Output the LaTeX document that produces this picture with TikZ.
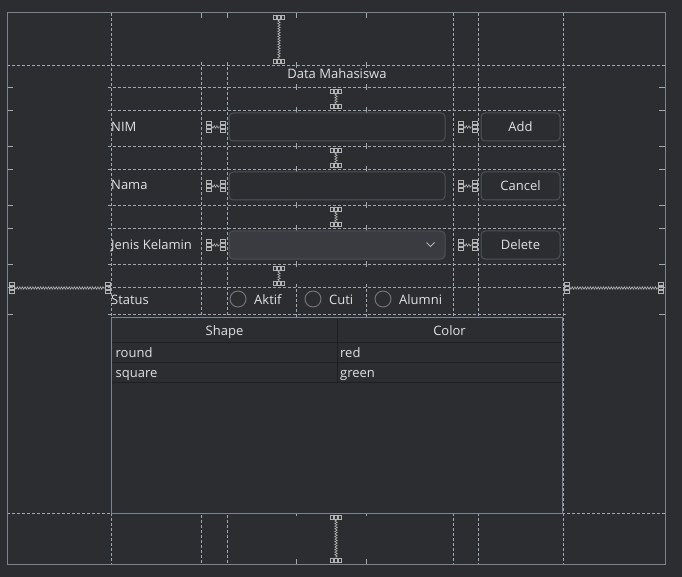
\documentclass[tikz,border=0pt]{standalone}
\usepackage{fontspec}
\setmainfont{Open Sans}
\usetikzlibrary{decorations.pathmorphing}
\definecolor{bg}{HTML}{2B2D30}
\definecolor{gridc}{HTML}{A0A8B6}
\definecolor{framec}{HTML}{7C8494}
\definecolor{txt}{HTML}{DFE1E5}
\definecolor{fieldb}{HTML}{4E5157}
\definecolor{combof}{HTML}{393B40}
\definecolor{strutc}{HTML}{B4B4B4}
\definecolor{tline}{HTML}{1E1F22}
\newcommand{\myvstrut}[3]{%
  \foreach \dx in {-4,0,4}{%
    \draw[strutbox] (#1+\dx-1.5,#2+1) rectangle (#1+\dx+1.5,#2+5);
    \draw[strutbox] (#1+\dx-1.5,#3-5) rectangle (#1+\dx+1.5,#3-1);}
  \draw[strutzig] (#1,#2+5) -- (#1,#3-5);}
\newcommand{\myhstrut}[3]{%
  \foreach \dy in {-4,0,4}{%
    \draw[strutbox] (#1,#3+\dy-1.5) rectangle (#1+5,#3+\dy+1.5);
    \draw[strutbox] (#2-5,#3+\dy-1.5) rectangle (#2,#3+\dy+1.5);}
  \draw[strutzig] (#1+5,#3) -- (#2-5,#3);}
\begin{document}
\begin{tikzpicture}[x=1pt,y=-1pt,
  gl/.style={gridc, line width=0.8pt, dash pattern=on 3pt off 2pt},
  tick/.style={gridc, line width=0.8pt},
  strutbox/.style={strutc, line width=0.6pt},
  strutzig/.style={strutc, line width=0.6pt, decorate, decoration={zigzag, segment length=2.6pt, amplitude=1.2pt}},
  lbl/.style={txt, inner sep=0pt, anchor=base west, font=\fontsize{13}{15}\selectfont},
  ctr/.style={txt, inner sep=0pt, anchor=base, font=\fontsize{13}{15}\selectfont},
  field/.style={fieldb, line width=1pt, rounded corners=4pt},
  radio/.style={draw=fieldb!80!white, line width=1pt}]
\useasboundingbox (0,0) rectangle (682,577);
\fill[bg] (0,0) rectangle (682,577);
% grid lines
\draw[gl] (7,65) -- (665,65);
\draw[gl] (7,513) -- (665,513);
\foreach \y in {87,110,146,169,205,228,264,287,314}{%
  \draw[gl] (108,\y) -- (566,\y);
  \draw[tick] (7,\y) -- (13,\y);
  \draw[tick] (659,\y) -- (665,\y);}
\foreach \x in {111,453,478,563}{\draw[gl] (\x,13) -- (\x,564);}
\foreach \x in {201,227}{%
  \draw[tick] (\x,13) -- (\x,18);
  \draw[gl] (\x,62) -- (\x,317);
  \draw[gl] (\x,510) -- (\x,564);}
\foreach \x in {296,366}{%
  \draw[tick] (\x,13) -- (\x,18);
  \foreach \y in {65,87,110,146,169,205,228,264}{\draw[tick] (\x,\y-3) -- (\x,\y+3);}
  \draw[gl] (\x,284) -- (\x,317);
  \draw[tick] (\x,510) -- (\x,516);
  \draw[tick] (\x,559) -- (\x,564);}
% outer frame
\draw[framec, line width=1pt] (7,13) rectangle (665,564);
% struts
\myvstrut{279}{14}{64}
\myvstrut{336}{88}{109}
\myvstrut{336}{147}{168}
\myvstrut{336}{206}{227}
\myvstrut{279}{265}{286}
\myvstrut{336}{514}{563}
\foreach \y in {127,186,245}{%
  \myhstrut{206}{225}{\y}
  \myhstrut{458}{477}{\y}}
\myhstrut{9}{110}{288}
\myhstrut{564}{663}{288}
% title
\node[ctr] (title) at (337,79) {Data Mahasiswa};
% labels
\node[lbl] (lnim) at (111,132) {NIM};
\node[lbl] (lnama) at (111,190) {Nama};
\node[lbl] (ljk) at (111,249) {Jenis Kelamin};
\node[lbl] (lstatus) at (111,304) {Status};
% fields
\draw[field, fill=bg] (229,113) rectangle (445,141);
\draw[field, fill=bg] (229,172) rectangle (445,200);
\draw[field, fill=combof] (229,231) rectangle (445,259);
\draw[txt!75!bg, line width=1pt] (426.5,242.5) -- (430.5,246.5) -- (434.5,242.5);
% buttons
\draw[field, fill=bg] (481,113) rectangle (560,141);
\draw[field, fill=bg] (481,172) rectangle (560,200);
\draw[field, fill=bg] (481,231) rectangle (560,259);
\node[ctr] (badd) at (520.5,132) {Add};
\node[ctr] (bcancel) at (520.5,191) {Cancel};
\node[ctr] (bdelete) at (520.5,250) {Delete};
% radios
\draw[radio] (238,299) circle (8);
\draw[radio] (313,299) circle (8);
\draw[radio] (383,299) circle (8);
\node[lbl] (raktif) at (254,304) {Aktif};
\node[lbl] (rcuti) at (329,304) {Cuti};
\node[lbl] (ralumni) at (399,304) {Alumni};
% table
\fill[bg] (111,317) rectangle (562,513);
\draw[tline, line width=1pt] (112,342) -- (561,342);
\draw[tline, line width=1pt] (112,362) -- (561,362);
\draw[tline, line width=1pt] (112,382) -- (561,382);
\draw[tline, line width=1pt] (337,319) -- (337,382);
\draw[framec, line width=1pt] (111,317) rectangle (562,513);
\node[ctr] (hshape) at (224.5,335) {Shape};
\node[ctr] (hcolor) at (449.5,335) {Color};
\node[lbl] (c11) at (115.5,357) {round};
\node[lbl] (c12) at (340,357) {red};
\node[lbl] (c21) at (115.5,377) {square};
\node[lbl] (c22) at (340,377) {green};
\end{tikzpicture}
\end{document}
